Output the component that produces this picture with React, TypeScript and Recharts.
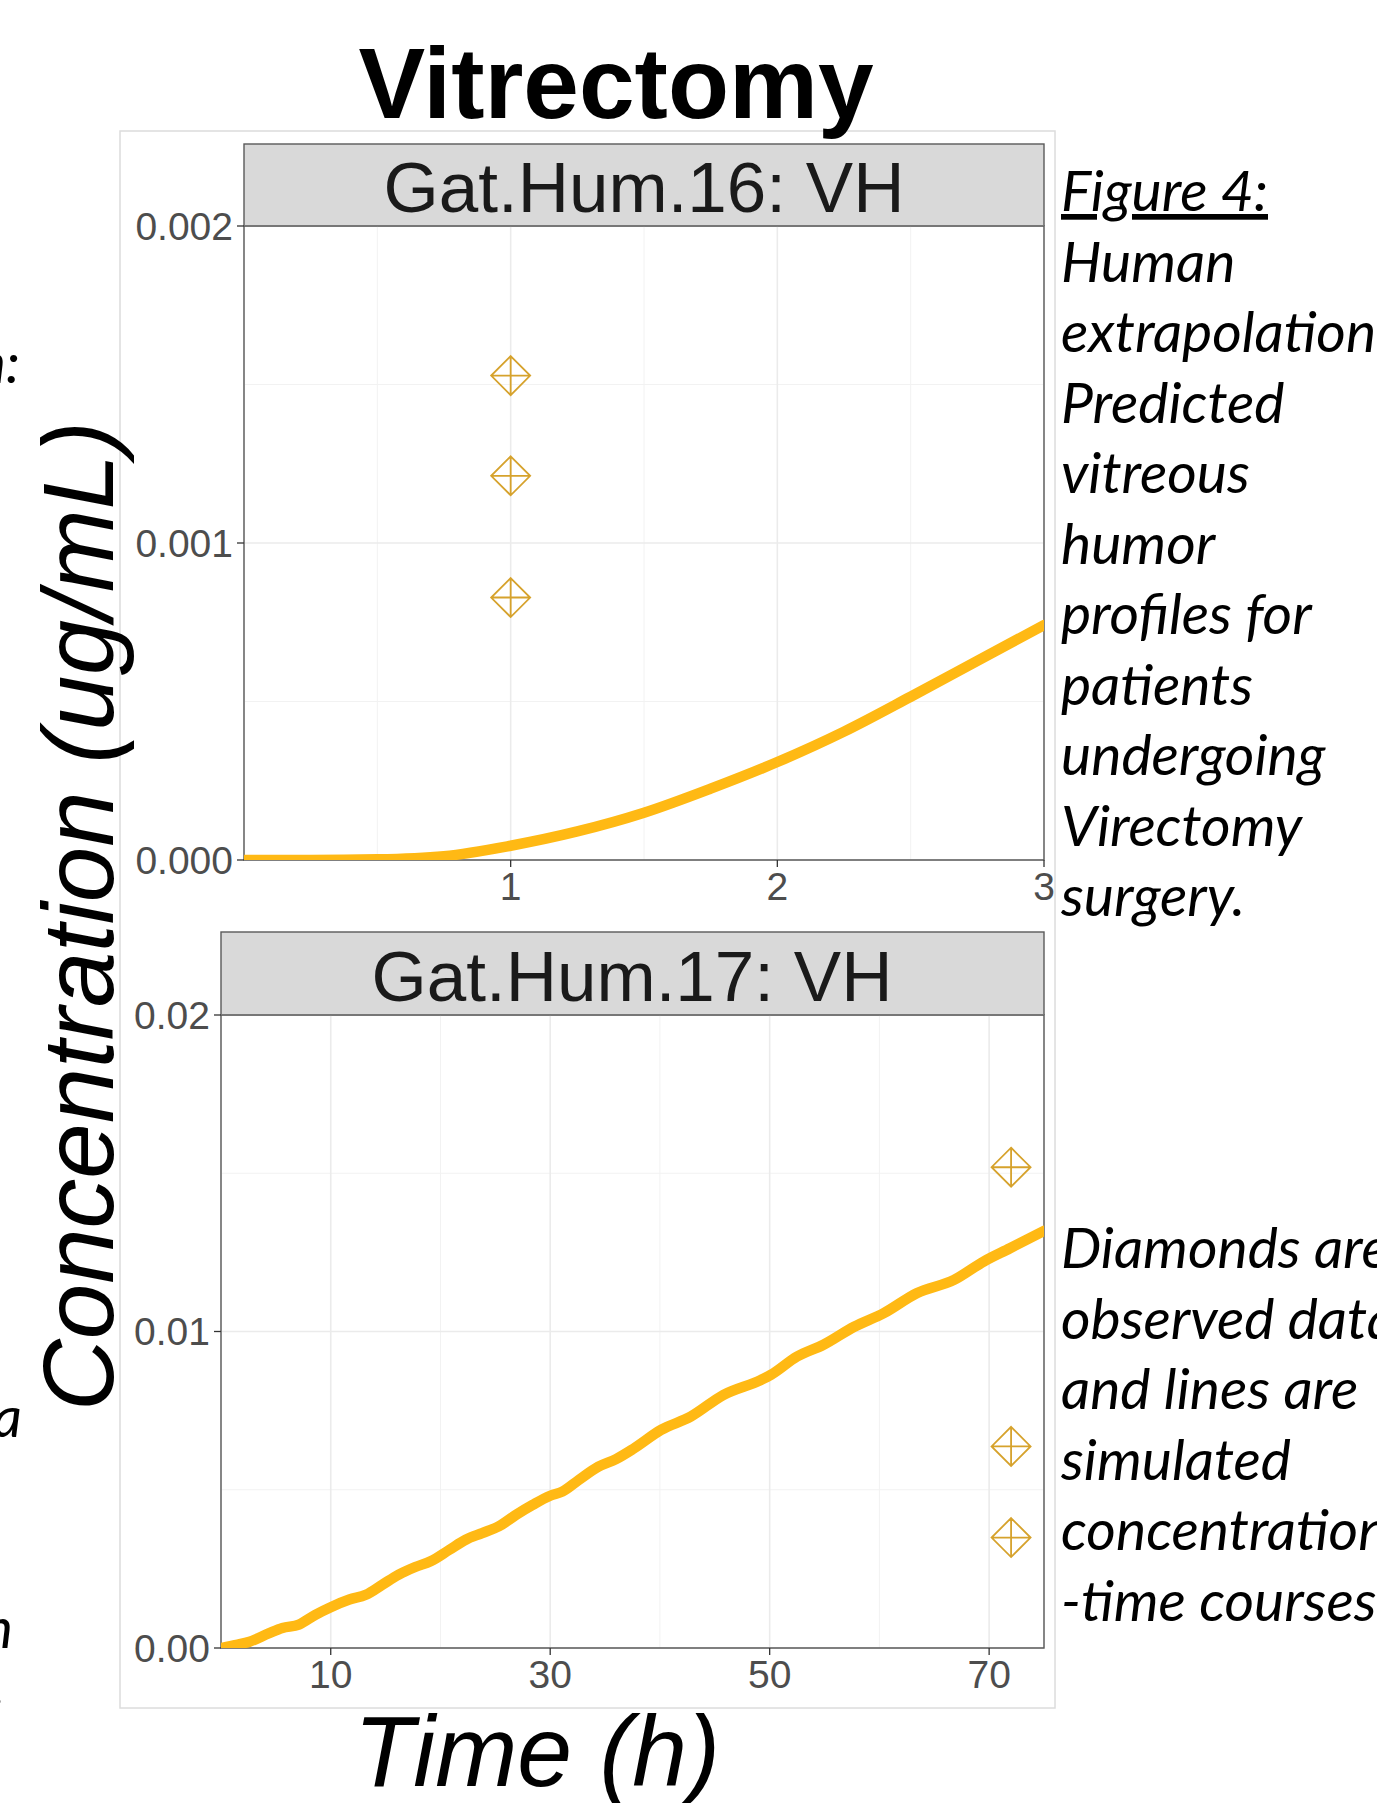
import React from "react";
import {
  ComposedChart,
  Line,
  Scatter,
  XAxis,
  YAxis,
  CartesianGrid,
  ReferenceArea,
} from "recharts";

// ---------- data ----------
const topTime = [0, 0.25, 0.5, 0.75, 1, 1.25, 1.5, 1.75, 2, 2.25, 2.5, 2.75, 3];
const topConc = [0, 0, 0.000002, 0.000012, 0.000045, 0.00009, 0.000149, 0.000225, 0.000309, 0.000405, 0.000515, 0.000628, 0.000741];
const topObsTime = [1, 1, 1];
const topObsConc = [0.001528, 0.001212, 0.000828];

const bottomTime = [0, 1.4, 2.6, 4.4, 5.6, 7.1, 8.6, 10.0, 11.7, 13.2, 14.7, 16.2, 17.7, 19.1, 20.8, 22.3, 23.8, 25.3, 26.9, 28.4, 30.0, 31.1, 32.6, 34.4, 36.0, 37.6, 40.1, 42.8, 45.8, 49.2, 50.1, 52.5, 54.9, 57.7, 60.4, 63.4, 66.8, 69.5, 71.9, 75];
const bottomConc = [0, 0.0001, 0.0002, 0.00047, 0.00063, 0.00074, 0.00105, 0.00129, 0.00153, 0.00168, 0.002, 0.00232, 0.00256, 0.00274, 0.0031, 0.00342, 0.00363, 0.00384, 0.00421, 0.00452, 0.00481, 0.00494, 0.00531, 0.00573, 0.00597, 0.0063, 0.00689, 0.00731, 0.008, 0.00847, 0.00863, 0.00921, 0.00958, 0.01015, 0.01058, 0.01121, 0.01163, 0.01221, 0.01263, 0.01318];
const bottomObsTime = [72, 72, 72];
const bottomObsConc = [0.01519, 0.00637, 0.00349];

const topXTicks = [1, 2, 3];
const topXLabels = ["1", "2", "3"];
const topYTicks = [0, 0.001, 0.002];
const topYLabels = ["0.000", "0.001", "0.002"];
const topMinorX = [0.5, 1.5, 2.5];
const topMinorY = [0.0005, 0.0015];

const bottomXTicks = [10, 30, 50, 70];
const bottomXLabels = ["10", "30", "50", "70"];
const bottomYTicks = [0, 0.01, 0.02];
const bottomYLabels = ["0.00", "0.01", "0.02"];
const bottomMinorX = [20, 40, 60];
const bottomMinorY = [0.005, 0.015];

const title = "Vitrectomy";
const panelTitles = ["Gat.Hum.16: VH", "Gat.Hum.17: VH"];
const yTitle = "Concentration (ug/mL)";
const xTitle = "Time (h)";
const captionTop = ["Figure 4:", "Human", "extrapolation:", "Predicted", "vitreous", "humor", "profiles for", "patients", "undergoing", "Virectomy", "surgery."];
const captionBottom = ["Diamonds are", "observed data", "and lines are", "simulated", "concentration", "-time courses"];

const topLine = topTime.map((t, i) => ({ t, c: topConc[i] }));
const topObs = topObsTime.map((t, i) => ({ t, c: topObsConc[i] }));
const bottomLine = bottomTime.map((t, i) => ({ t, c: bottomConc[i] }));
const bottomObs = bottomObsTime.map((t, i) => ({ t, c: bottomObsConc[i] }));

// ---------- styles ----------
const LINE_COLOR = "#FFB914";
const OBS_COLOR = "#D6A22C";
const TICK_COLOR = "#4d4d4d";
const BORDER = "#5a5a5a";
const FONT = "'Liberation Sans', Arial, sans-serif";
const CAPTION_FONT = "Lato, 'Open Sans', sans-serif";
const CAPTION_SIZE = 57;

const DiamondPlus = (props: any) => {
  const { cx, cy } = props;
  if (cx == null || cy == null) return null;
  const r = 19.5;
  const d = `M${cx},${cy - r}L${cx + r},${cy}L${cx},${cy + r}L${cx - r},${cy}Z M${cx - r},${cy}L${cx + r},${cy} M${cx},${cy - r}L${cx},${cy + r}`;
  return <path d={d} fill="none" stroke={OBS_COLOR} strokeWidth={1.8} />;
};

const labelFor = (ticks: number[], labels: string[]) => (v: number) => {
  const i = ticks.findIndex((x) => Math.abs(x - v) < 1e-12);
  return i >= 0 ? labels[i] : String(v);
};

type PanelProps = {
  top: number;
  width: number;
  height: number;
  margin: { top: number; right: number; bottom: number; left: number };
  line: { t: number; c: number }[];
  obs: { t: number; c: number }[];
  xDomain: [number, number];
  yDomain: [number, number];
  xTicks: number[];
  xLabels: string[];
  yTicks: number[];
  yLabels: string[];
  minorX: number[];
  minorY: number[];
};

const Panel = (p: PanelProps) => (
  <div style={{ position: "absolute", left: 0, top: p.top }}>
    <ComposedChart width={p.width} height={p.height} data={p.line} margin={p.margin}>
      <CartesianGrid
        stroke="#f2f2f2"
        strokeWidth={1}
        verticalValues={p.minorX}
        horizontalValues={p.minorY}
      />
      <CartesianGrid stroke="#ebebeb" strokeWidth={1.6} />
      <XAxis
        dataKey="t"
        type="number"
        domain={p.xDomain}
        allowDataOverflow
        ticks={p.xTicks}
        tickFormatter={labelFor(p.xTicks, p.xLabels)}
        axisLine={false}
        tickLine={{ stroke: "#333333", strokeWidth: 1.3 }}
        tickSize={7}
        tickMargin={5}
        height={60}
        interval={0}
        tick={{ fill: TICK_COLOR, fontSize: 39, fontFamily: FONT }}
      />
      <YAxis
        type="number"
        domain={p.yDomain}
        allowDataOverflow
        ticks={p.yTicks}
        tickFormatter={labelFor(p.yTicks, p.yLabels)}
        axisLine={false}
        tickLine={{ stroke: "#333333", strokeWidth: 1.3 }}
        tickSize={7}
        tickMargin={4}
        width={100}
        interval={0}
        tick={{ fill: TICK_COLOR, fontSize: 39, fontFamily: FONT }}
      />
      <Line
        dataKey="c"
        type="monotone"
        stroke={LINE_COLOR}
        strokeWidth={10.5}
        strokeLinecap="round"
        dot={false}
        isAnimationActive={false}
      />
      <Scatter
        data={p.obs}
        dataKey="c"
        shape={DiamondPlus}
        isAnimationActive={false}
      />
      <ReferenceArea
        x1={p.xDomain[0]}
        x2={p.xDomain[1]}
        y1={p.yDomain[0]}
        y2={p.yDomain[1]}
        fill="none"
        fillOpacity={0}
        stroke={BORDER}
        strokeWidth={1.4}
        ifOverflow="visible"
      />
    </ComposedChart>
  </div>
);

export default function App() {
  const lineGap = 70.5;
  return (
    <div
      style={{
        position: "absolute",
        left: 0,
        top: 0,
        width: 1377,
        height: 1803,
        overflow: "hidden",
        background: "#ffffff",
      }}
    >
      <svg
        width={1377}
        height={1803}
        style={{ position: "absolute", left: 0, top: 0 }}
      >
        {/* plot background border */}
        <rect x={120} y={131} width={935} height={1577} fill="#ffffff" stroke="#dcdcdc" strokeWidth={1.5} />
        {/* title */}
        <text x={616} y={118} textAnchor="middle" fontFamily={FONT} fontWeight="bold" fontSize={100} fill="#000">
          {title}
        </text>
        {/* strips */}
        <rect x={244} y={144} width={800} height={82} fill="#d9d9d9" stroke={BORDER} strokeWidth={1.4} />
        <text x={644} y={212} textAnchor="middle" fontFamily={FONT} fontSize={71} fill="#1a1a1a">
          {panelTitles[0]}
        </text>
        <rect x={221} y={932} width={823} height={83} fill="#d9d9d9" stroke={BORDER} strokeWidth={1.4} />
        <text x={632} y={1001} textAnchor="middle" fontFamily={FONT} fontSize={71} fill="#1a1a1a">
          {panelTitles[1]}
        </text>
        {/* axis titles */}
        <text
          transform="translate(113,916) rotate(-90)"
          textAnchor="middle"
          fontFamily={FONT}
          fontStyle="italic"
          fontSize={100}
          textLength={990}
          lengthAdjust="spacingAndGlyphs"
          fill="#000"
        >
          {yTitle}
        </text>
        <text
          x={537}
          y={1786}
          textAnchor="middle"
          fontFamily={FONT}
          fontStyle="italic"
          fontSize={100}
          textLength={366}
          lengthAdjust="spacingAndGlyphs"
          fill="#000"
        >
          {xTitle}
        </text>
        {/* captions on the right */}
        {captionTop.map((s, i) => (
          <text
            key={"ct" + i}
            x={1061}
            y={211 + i * lineGap}
            fontFamily={CAPTION_FONT}
            fontStyle="italic"
            fontSize={CAPTION_SIZE}
            fill="#000"
            textDecoration={i === 0 ? "underline" : undefined}
          >
            {s}
          </text>
        ))}
        {captionBottom.map((s, i) => (
          <text
            key={"cb" + i}
            x={1061}
            y={1268 + i * lineGap}
            fontFamily={CAPTION_FONT}
            fontStyle="italic"
            fontSize={CAPTION_SIZE}
            fill="#000"
          >
            {s}
          </text>
        ))}
        {/* fragments of neighbouring caption on the left */}
        <text x={20} y={383} textAnchor="end" fontFamily={CAPTION_FONT} fontStyle="italic" fontSize={CAPTION_SIZE} fill="#000">
          n:
        </text>
        <text x={22} y={1437} textAnchor="end" fontFamily={CAPTION_FONT} fontStyle="italic" fontSize={CAPTION_SIZE} fill="#000">
          a
        </text>
        <text x={13} y={1648} textAnchor="end" fontFamily={CAPTION_FONT} fontStyle="italic" fontSize={CAPTION_SIZE} fill="#000">
          n
        </text>
        <text x={5} y={1705} textAnchor="end" fontFamily={CAPTION_FONT} fontStyle="italic" fontSize={CAPTION_SIZE} fill="#000">
          .
        </text>
      </svg>

      <Panel
        top={0}
        width={1377}
        height={960}
        margin={{ top: 226, right: 333, bottom: 40, left: 144 }}
        line={topLine}
        obs={topObs}
        xDomain={[0, 3]}
        yDomain={[0, 0.002]}
        xTicks={topXTicks}
        xLabels={topXLabels}
        yTicks={topYTicks}
        yLabels={topYLabels}
        minorX={topMinorX}
        minorY={topMinorY}
      />
      <Panel
        top={900}
        width={1377}
        height={820}
        margin={{ top: 115, right: 333, bottom: 12, left: 121 }}
        line={bottomLine}
        obs={bottomObs}
        xDomain={[0, 75]}
        yDomain={[0, 0.02]}
        xTicks={bottomXTicks}
        xLabels={bottomXLabels}
        yTicks={bottomYTicks}
        yLabels={bottomYLabels}
        minorX={bottomMinorX}
        minorY={bottomMinorY}
      />
    </div>
  );
}
